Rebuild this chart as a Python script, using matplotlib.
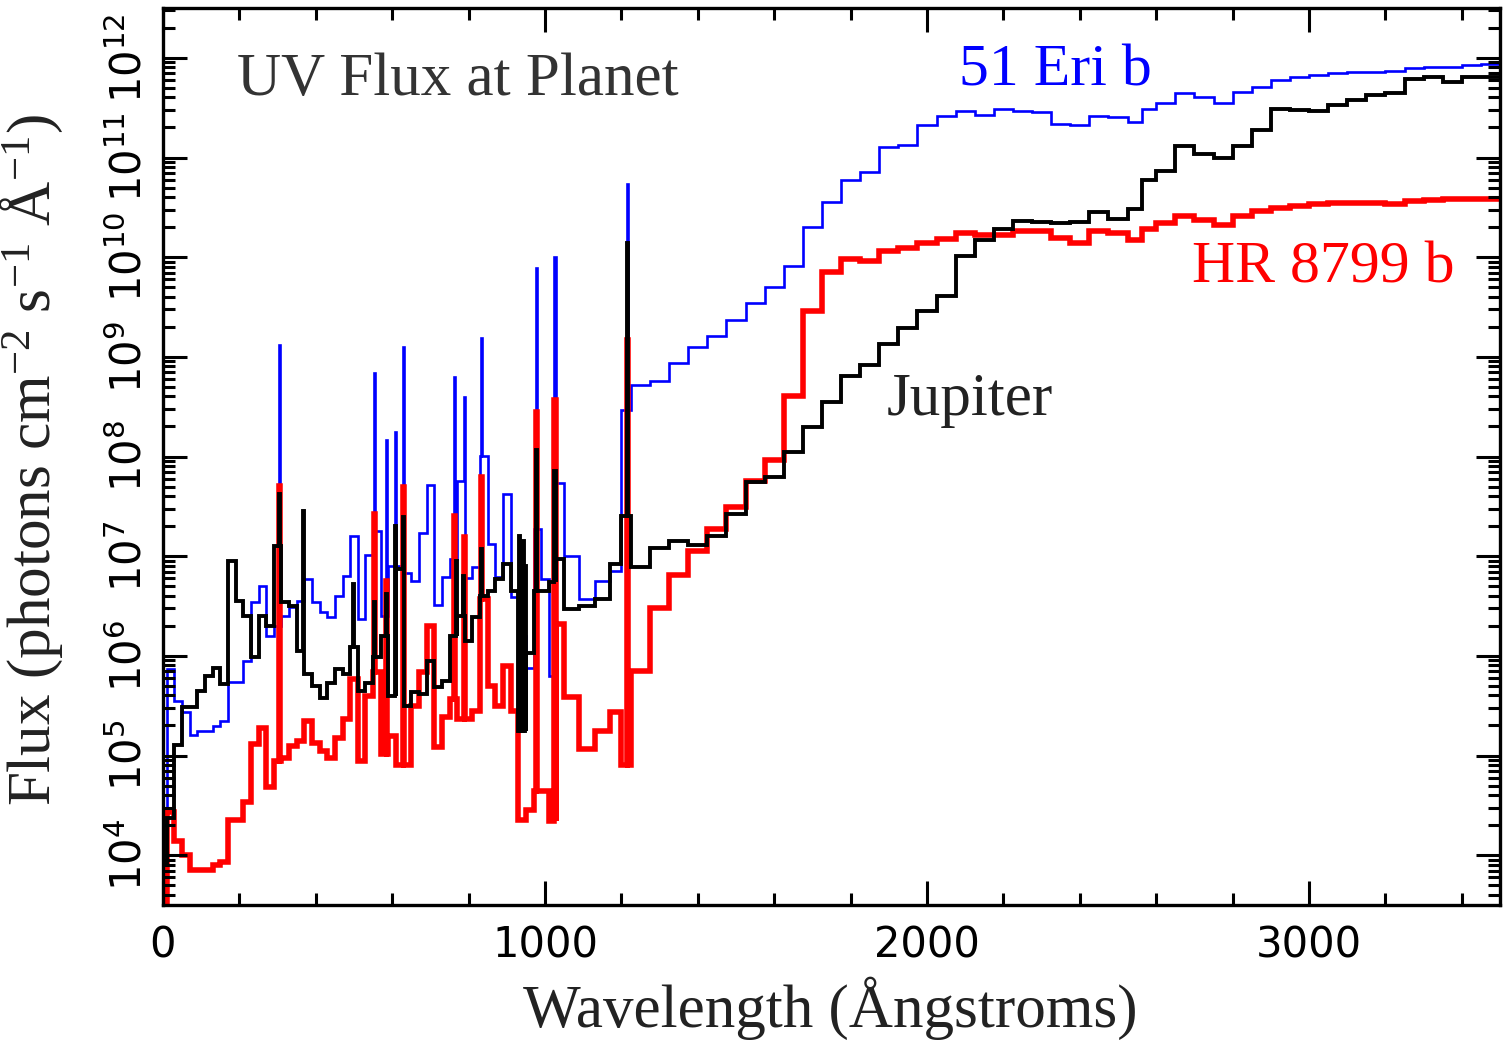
import numpy as np
import matplotlib
matplotlib.use("Agg")
from matplotlib import pyplot as plt
from matplotlib.ticker import MultipleLocator, FixedLocator, NullFormatter

plt.rcParams['font.family'] = ['DejaVu Sans']
plt.rcParams['mathtext.fontset'] = 'custom'
plt.rcParams['mathtext.rm'] = 'Liberation Serif'
plt.rcParams['mathtext.it'] = 'Liberation Serif:italic'

# wavelength bin edges (Angstrom): ~20 A bins in the EUV, ~50 A bins longward of Ly-alpha
low_edges = np.concatenate([[0], np.arange(10, 1051, 20), [1090, 1130, 1170, 1200]])
high_edges = np.array([1225, 1275, 1325, 1375, 1425, 1475, 1525, 1575, 1625, 1675, 1725,
                       1775, 1825, 1875, 1925, 1975, 2025, 2075, 2125, 2175, 2225, 2275,
                       2325, 2375, 2425, 2475, 2525, 2562, 2600, 2650, 2700, 2750, 2800,
                       2850, 2900, 2950, 3000, 3050, 3100, 3150, 3200, 3250, 3300, 3350,
                       3400, 3450, 3500])
edges = np.concatenate([low_edges, high_edges])

# log10 flux (photons cm-2 s-1 A-1) per bin
eri_log = [4.40, 5.87, 5.55, 5.44, 5.21, 5.25, 5.25, 5.30, 5.35, 5.74, 5.74, 5.95, 6.54, 6.70,
           6.20, 6.30, 6.40, 6.49, 6.55, 6.77, 6.54, 6.44, 6.39, 6.60, 6.80, 7.20, 6.37, 7.01,
           7.25, 6.40, 6.90, 6.90, 6.83, 6.75, 7.23, 7.71, 6.51, 6.79, 6.97, 7.75, 6.78, 6.89,
           8.01, 7.12, 6.79, 7.62, 6.59, 6.20, 5.88, 7.27, 6.77, 5.80, 7.73, 7.00, 6.57, 6.75,
           6.85, 8.47,
           8.72, 8.76, 8.94, 9.10, 9.21, 9.37, 9.54, 9.70, 9.91, 10.30, 10.55, 10.77, 10.85,
           11.11, 11.13, 11.33, 11.42, 11.47, 11.43, 11.49, 11.47, 11.46, 11.34, 11.33, 11.42,
           11.41, 11.36, 11.49, 11.55, 11.65, 11.61, 11.55, 11.66, 11.71, 11.78, 11.81, 11.83,
           11.85, 11.86, 11.86, 11.87, 11.90, 11.91, 11.91, 11.93, 11.94]
hr_log = [3.50, 4.43, 4.14, 4.00, 3.85, 3.85, 3.85, 3.90, 3.93, 4.35, 4.35, 4.53, 5.12, 5.28,
          4.68, 4.94, 4.97, 5.10, 5.15, 5.35, 5.13, 5.05, 4.97, 5.18, 5.37, 5.77, 4.94, 5.60,
          5.84, 5.02, 5.20, 4.90, 4.90, 5.50, 5.84, 6.30, 5.09, 5.39, 5.57, 5.37, 5.37, 5.45,
          6.57, 5.70, 5.50, 5.90, 5.45, 4.35, 4.45, 4.64, 4.64, 4.34, 6.32, 5.59, 5.07, 5.25,
          5.44, 4.90,
          5.85, 6.48, 6.81, 7.05, 7.27, 7.49, 7.75, 7.96, 8.61, 9.46, 9.85, 9.98, 9.96,
          10.06, 10.09, 10.14, 10.18, 10.24, 10.22, 10.22, 10.26, 10.26, 10.19, 10.14, 10.26,
          10.24, 10.17, 10.28, 10.34, 10.41, 10.37, 10.32, 10.41, 10.46, 10.49, 10.51, 10.53,
          10.54, 10.54, 10.54, 10.53, 10.56, 10.57, 10.58, 10.58, 10.58]
jup_log = [3.90, 4.37, 5.11, 5.49, 5.49, 5.65, 5.80, 5.88, 5.72, 6.95, 6.55, 6.40, 5.99, 6.40,
           6.30, 7.10, 6.54, 6.50, 6.05, 5.82, 5.70, 5.58, 5.73, 5.87, 5.82, 6.09, 5.65, 5.73,
           5.99, 6.20, 5.60, 6.87, 5.50, 5.64, 5.62, 5.95, 5.69, 5.75, 6.20, 6.40, 6.15, 6.39,
           6.60, 6.65, 6.77, 6.92, 6.65, 5.25, 6.03, 6.65, 6.65, 6.74, 6.97, 6.47, 6.50, 6.57,
           6.92, 7.40,
           6.89, 7.08, 7.15, 7.11, 7.20, 7.42, 7.74, 7.79, 8.05, 8.30, 8.55, 8.81, 8.92,
           9.13, 9.29, 9.46, 9.61, 10.01, 10.17, 10.28, 10.36, 10.35, 10.34, 10.35, 10.45,
           10.38, 10.48, 10.77, 10.86, 11.12, 11.04, 11.00, 11.12, 11.28, 11.49, 11.48, 11.47,
           11.53, 11.58, 11.63, 11.65, 11.79, 11.81, 11.76, 11.81, 11.81]

# emission lines: (wavelength, log10 peak flux)
eri_lines = [(304, 9.12), (554, 8.84), (585, 8.17), (609, 8.25), (630, 9.10), (763, 8.80),
             (790, 8.60), (834, 9.19), (977, 9.89), (1026, 10.00), (1216, 10.73)]
hr_lines = [(304, 7.70), (554, 7.42), (585, 6.75), (630, 7.69), (763, 7.40), (790, 7.19),
            (834, 7.79), (977, 8.45), (1026, 8.57), (1216, 9.17)]
jup_lines = [(304, 7.62), (368, 7.45), (498, 6.72), (554, 6.54), (585, 6.62), (609, 7.30),
             (630, 7.39), (768, 6.95), (786, 6.80), (834, 7.07), (934, 7.20), (939, 7.00),
             (944, 7.15), (949, 6.90), (977, 8.07), (1026, 7.85), (1216, 10.14)]

y_decades = [4, 5, 6, 7, 8, 9, 10, 11, 12]


def add_lines(edges, logs, lines, width=3.0):
    # split the bin holding each line into base / peak / base
    e = list(edges)
    v = list(logs)
    for lam, peak in sorted(lines):
        i = int(np.searchsorted(e, lam)) - 1
        base = v[i]
        e[i + 1:i + 1] = [lam - width / 2, lam + width / 2]
        v[i:i + 1] = [base, peak, base]
    return np.array(e), 10.0 ** np.array(v)


fig = plt.figure(figsize=(15.04, 10.43), dpi=100)
ax = fig.add_axes([163 / 1504, 138 / 1043, 1337 / 1504, 897 / 1043])

e, f = add_lines(edges, eri_log, eri_lines)
ax.stairs(f, e, baseline=None, color='#0000ff', lw=1.9)
e, f = add_lines(edges, hr_log, hr_lines)
ax.stairs(f, e, baseline=None, color='#ff0000', lw=4.0)
e, f = add_lines(edges, jup_log, jup_lines)
ax.stairs(f, e, baseline=None, color='black', lw=2.8)

ax.set_yscale('log')
ax.set_xlim(0, 3500)
ax.set_ylim(10 ** 3.5, 10 ** 12.5)

ax.set_xticks([0, 1000, 2000, 3000])
ax.xaxis.set_minor_locator(MultipleLocator(200))
ax.set_yticks([10.0 ** k for k in y_decades])
minor_y = [m * 10.0 ** k for k in [3] + y_decades for m in range(2, 10)
           if 10 ** 3.5 < m * 10.0 ** k < 10 ** 12.5]
ax.yaxis.set_minor_locator(FixedLocator(minor_y))
ax.yaxis.set_minor_formatter(NullFormatter())

ax.tick_params(which='both', direction='in', top=True, right=True, width=2.2)
ax.tick_params(which='major', length=17)
ax.tick_params(which='minor', length=8.5)
ax.tick_params(axis='x', labelsize=30, pad=14)
ax.tick_params(axis='y', labelsize=30, pad=9, labelrotation=90)
for lab in ax.get_yticklabels():
    lab.set_va('center')
for s in ax.spines.values():
    s.set_linewidth(2.4)

serif = 'Liberation Serif'
ax.set_xlabel('Wavelength (Ångstroms)', fontsize=44, family=serif, color='#222222')
ax.xaxis.set_label_coords(0.499, -0.08)
ax.set_ylabel(r'Flux (photons cm$^{-2}$ s$^{-1}$ Å$^{-1}$)', fontsize=44, family=serif,
              color='#222222')
ax.yaxis.set_label_coords(-0.073, 0.496)

ax.text(0.055, 0.92, 'UV Flux at Planet', transform=ax.transAxes, fontsize=44,
        family=serif, color='#333333', va='center')
ax.text(0.595, 0.929, '51 Eri b', transform=ax.transAxes, fontsize=43,
        family=serif, color='#0000ff', va='center')
ax.text(0.770, 0.710, 'HR 8799 b', transform=ax.transAxes, fontsize=43,
        family=serif, color='#ff0000', va='center')
ax.text(0.5415, 0.563, 'Jupiter', transform=ax.transAxes, fontsize=44,
        family=serif, color='#222222', va='center')

fig.savefig('out.png', dpi=100)
